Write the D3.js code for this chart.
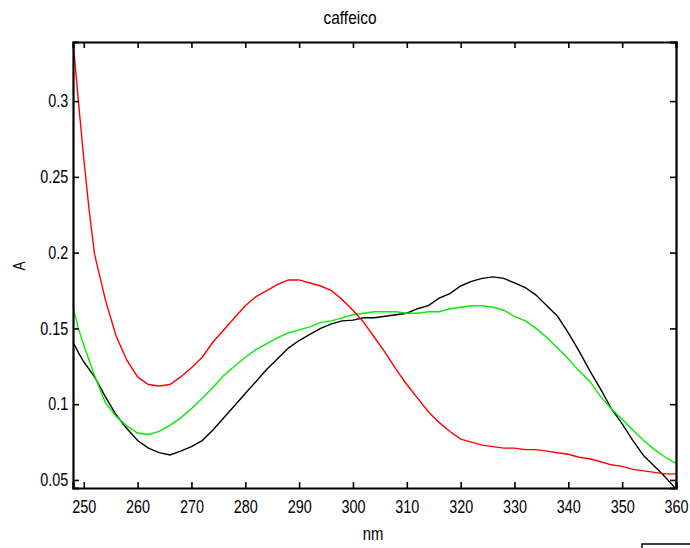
<!DOCTYPE html>
<html><head><meta charset="utf-8">
<script src="https://cdn.jsdelivr.net/npm/d3@7"></script>
<style>
html,body{margin:0;padding:0;background:#fff;}
svg text{font-family:"Liberation Sans",Arial,sans-serif;fill:#000;}
</style></head>
<body><svg id="c" width="690" height="548"></svg>
<script>
const wavelengths = [248,249,250,251,252,254,256,258,260,262,264,266,268,270,272,274,276,278,280,282,284,286,288,290,292,294,296,298,300,302,304,306,308,310,312,314,316,318,320,322,324,326,328,330,332,334,336,338,340,342,344,346,348,350,352,354,356,358,360];
const redSeries = [0.340,0.300,0.262,0.228,0.199,0.169,0.145,0.129,0.118,0.113,0.112,0.113,0.118,0.124,0.131,0.141,0.149,0.157,0.165,0.171,0.175,0.179,0.182,0.182,0.180,0.178,0.175,0.169,0.162,0.154,0.144,0.134,0.123,0.113,0.104,0.095,0.088,0.082,0.077,0.075,0.073,0.072,0.071,0.071,0.070,0.070,0.069,0.068,0.067,0.065,0.064,0.062,0.060,0.059,0.057,0.056,0.055,0.054,0.054];
const blackSeries = [0.141,0.134,0.128,0.123,0.118,0.105,0.093,0.084,0.076,0.071,0.068,0.0665,0.069,0.072,0.076,0.083,0.091,0.099,0.107,0.115,0.123,0.130,0.137,0.142,0.146,0.150,0.153,0.155,0.1555,0.157,0.157,0.158,0.159,0.160,0.163,0.165,0.170,0.173,0.178,0.181,0.183,0.184,0.183,0.180,0.177,0.172,0.165,0.158,0.147,0.135,0.122,0.110,0.097,0.087,0.076,0.066,0.059,0.052,0.044];
const greenSeries = [0.164,0.150,0.139,0.129,0.119,0.101,0.092,0.0856,0.081,0.080,0.082,0.086,0.091,0.097,0.104,0.111,0.119,0.125,0.131,0.136,0.140,0.144,0.147,0.149,0.151,0.154,0.155,0.157,0.159,0.160,0.161,0.161,0.161,0.160,0.160,0.161,0.161,0.163,0.164,0.165,0.165,0.164,0.162,0.158,0.155,0.150,0.144,0.137,0.130,0.122,0.115,0.105,0.097,0.090,0.083,0.076,0.070,0.065,0.061];
const xTicks = [250,260,270,280,290,300,310,320,330,340,350,360];
const yTicks = [0.05,0.1,0.15,0.2,0.25,0.3];
const yTickLabels = ["0.05","0.1","0.15","0.2","0.25","0.3"];
const titleText = "caffeico", xLabel = "nm", yLabel = "A";

const L=73, R=676, T=42, B=488;
const SX = 0.8;
const svg = d3.select("#c");
const x = d3.scaleLinear().domain([248,360]).range([L,R]);
const y = d3.scaleLinear().domain([0.0447,0.339]).range([B,T]);

svg.append("defs").append("clipPath").attr("id","clip")
  .append("rect").attr("x",L).attr("y",T).attr("width",R-L).attr("height",B-T);

const series = [
  {vals: blackSeries, color:"#000000"},
  {vals: greenSeries, color:"#00ee00"},
  {vals: redSeries, color:"#ff0000"}
];
const line = d3.line().x(d=>x(d[0])).y(d=>y(d[1]));
const g = svg.append("g").attr("clip-path","url(#clip)");
series.forEach(s=>{
  g.append("path").datum(wavelengths.map((w,i)=>[w,s.vals[i]]))
   .attr("d",line).attr("fill","none").attr("stroke",s.color).attr("stroke-width",1.4);
});

const fs = 18;
const xb = svg.append("g").attr("transform",`translate(0,${B})`)
  .call(d3.axisBottom(x).tickValues(xTicks).tickSize(-6).tickPadding(12).tickFormat(d3.format("d")));
const xt = svg.append("g").attr("transform",`translate(0,${T})`)
  .call(d3.axisTop(x).tickValues(xTicks).tickSize(-6).tickFormat(""));
const yl = svg.append("g").attr("transform",`translate(${L},0)`)
  .call(d3.axisLeft(y).tickValues(yTicks).tickSize(-6).tickPadding(6).tickFormat((d,i)=>yTickLabels[i]));
const yr = svg.append("g").attr("transform",`translate(${R},0)`)
  .call(d3.axisRight(y).tickValues(yTicks).tickSize(-6).tickFormat(""));
[xb,xt,yl,yr].forEach(a=>{
  a.selectAll(".domain").attr("stroke","#000").attr("stroke-width",2.2);
  a.selectAll(".tick line").attr("stroke","#000").attr("stroke-width",1.6);
  a.selectAll("text").attr("font-size",fs).style("font-family",'"Liberation Sans",Arial,sans-serif')
    .attr("transform",`scale(${SX},1)`);
});

svg.append("text").attr("transform","translate(350,24) scale(0.86,1)").attr("text-anchor","middle").attr("font-size",18).text(titleText);
svg.append("text").attr("transform","translate(373,540) scale(0.78,1)").attr("text-anchor","middle").attr("font-size",19).text(xLabel);
svg.append("text").attr("transform","translate(25,266) rotate(-90) scale(0.85,1)").attr("text-anchor","middle").attr("font-size",16).text(yLabel);
svg.append("rect").attr("x",642).attr("y",544).attr("width",60).attr("height",20).attr("fill","none").attr("stroke","#000").attr("stroke-width",1.5);
</script></body></html>
